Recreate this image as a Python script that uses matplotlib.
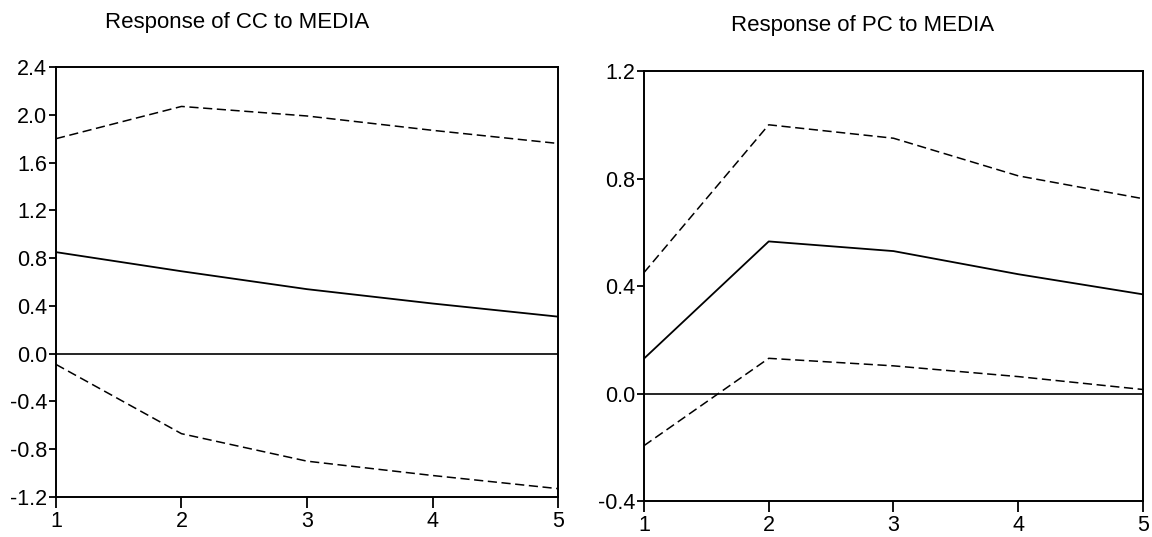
import matplotlib
matplotlib.use("Agg")
import matplotlib.pyplot as plt

# horizon (periods)
periods = [1, 2, 3, 4, 5]

# Response of CC to MEDIA
cc_resp = [0.85, 0.69, 0.54, 0.42, 0.31]
cc_upper = [1.80, 2.07, 1.99, 1.87, 1.76]
cc_lower = [-0.09, -0.67, -0.90, -1.02, -1.13]
cc_yticks = [-1.2, -0.8, -0.4, 0.0, 0.4, 0.8, 1.2, 1.6, 2.0, 2.4]

# Response of PC to MEDIA
pc_resp = [0.13, 0.566, 0.53, 0.444, 0.369]
pc_upper = [0.45, 1.00, 0.95, 0.81, 0.725]
pc_lower = [-0.194, 0.131, 0.103, 0.063, 0.015]
pc_yticks = [-0.4, 0.0, 0.4, 0.8, 1.2]

plt.rcParams['font.family'] = ['Liberation Sans', 'DejaVu Sans']

fig = plt.figure(figsize=(11.52, 5.37), dpi=100)
ax1 = fig.add_axes([0.0486, 0.0745, 0.4358, 0.8007])
ax2 = fig.add_axes([0.559, 0.067, 0.4332, 0.8007])

dash = (0, (6, 3))


def draw_panel(ax, resp, upper, lower, yticks):
    ax.plot(periods, resp, color='black', lw=1.3)
    ax.plot(periods, upper, color='black', lw=1.1, linestyle=dash)
    ax.plot(periods, lower, color='black', lw=1.1, linestyle=dash)
    ax.axhline(0, color='black', lw=1.2)
    ax.set_xlim(1, 5)
    ax.set_ylim(yticks[0], yticks[-1])
    ax.set_xticks(periods)
    ax.set_xticklabels([str(p) for p in periods])
    ax.set_yticks(yticks)
    ax.set_yticklabels([f"{t:.1f}" for t in yticks])
    ax.tick_params(axis='x', direction='out', length=8, width=1.3, pad=2, labelsize=15.5)
    ax.tick_params(axis='y', direction='out', length=5, width=1.3, pad=1.5, labelsize=15.5)
    for sp in ax.spines.values():
        sp.set_linewidth(1.4)


draw_panel(ax1, cc_resp, cc_upper, cc_lower, cc_yticks)
draw_panel(ax2, pc_resp, pc_upper, pc_lower, pc_yticks)

fig.text(237 / 1152, 1 - 22.5 / 537, "Response of CC to MEDIA", ha='center', va='center', fontsize=16)
fig.text(863 / 1152, 1 - 26 / 537, "Response of PC to MEDIA", ha='center', va='center', fontsize=16)

fig.savefig("out.png", dpi=100)
